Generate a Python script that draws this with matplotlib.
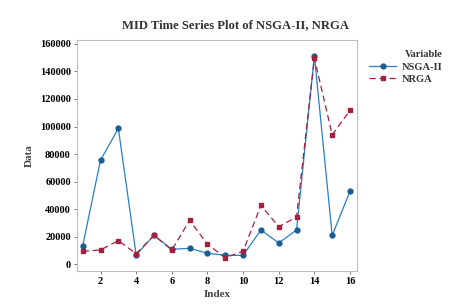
import matplotlib
matplotlib.use("Agg")
import matplotlib.pyplot as plt

# datos
index = list(range(1, 17))
nsga2 = [13500, 75600, 98600, 6800, 21000, 10900, 11600, 8000,
         6500, 6500, 24900, 15500, 24900, 151300, 21000, 52900]
nrga = [9400, 10400, 17200, 7700, 21000, 10400, 31900, 14500,
        4800, 9400, 42800, 27300, 34300, 149600, 94000, 111700]
x_ticks = [2, 4, 6, 8, 10, 12, 14, 16]
y_ticks = [0, 20000, 40000, 60000, 80000, 100000, 120000, 140000, 160000]

plt.rcParams['font.family'] = ['Liberation Serif', 'DejaVu Serif']
plt.rcParams['font.weight'] = 'bold'

fig = plt.figure(figsize=(4.49, 3.04), dpi=100)
ax = fig.add_axes([0.1715, 0.1086, 0.6235, 0.7594])

ax.plot(index, nsga2, color='#2a7fc8', linewidth=0.9, marker='o',
        markersize=3.5, markerfacecolor='#1a5d92', markeredgecolor='#1a5d92',
        label='NSGA-II')
ax.plot(index, nrga, color='#a3203f', linewidth=0.9, linestyle=(0, (5, 3)),
        marker='s', markersize=3.5, markerfacecolor='#a3203f',
        markeredgecolor='#a3203f', label='NRGA')

ax.set_xlim(0.68, 16.39)
ax.set_ylim(-4860, 162700)
ax.set_xticks(x_ticks)
ax.set_yticks(y_ticks)
ax.tick_params(labelsize=7.5, length=2.5, width=0.6, color='#666666', pad=2)
for lab in ax.get_xticklabels() + ax.get_yticklabels():
    lab.set_fontweight('bold')
for s in ax.spines.values():
    s.set_color('#bdbdbd')
    s.set_linewidth(0.8)

ax.set_xlabel('Index', fontsize=8, fontweight='bold', color='#444444', labelpad=3)
ax.set_ylabel('Data', fontsize=8, fontweight='bold', color='#444444', labelpad=4)
fig.text(235 / 449, 1 - 25 / 304, 'MID Time Series Plot of NSGA-II, NRGA',
         ha='center', va='center', fontsize=9.1, fontweight='bold', color='#333333')

leg = fig.legend(loc='upper left', bbox_to_anchor=(362 / 449, 1 - 43 / 304),
                 title='Variable', fontsize=7.5, title_fontsize=7.5,
                 frameon=False, handlelength=2.6, handletextpad=0.5,
                 labelspacing=0.3, borderpad=0.2, alignment='right')
leg.get_title().set_fontweight('bold')
leg.get_title().set_color('#333333')
for t in leg.get_texts():
    t.set_color('#333333')

fig.savefig('out.png', dpi=100)
